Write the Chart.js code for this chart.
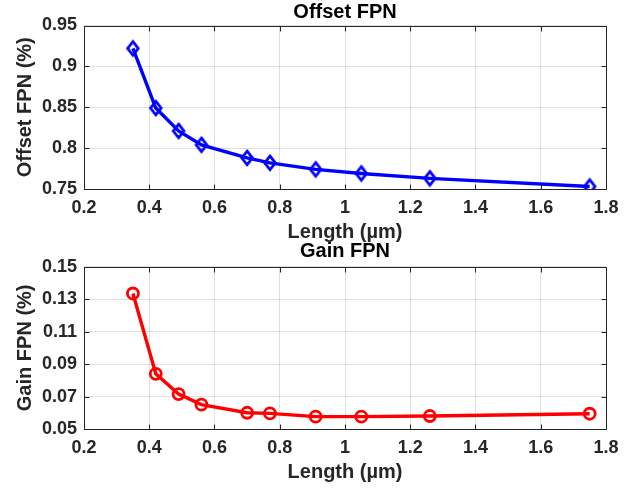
<!DOCTYPE html>
<html>
<head>
<meta charset="utf-8">
<script src="https://cdn.jsdelivr.net/npm/chart.js@4"></script>
<style>
  html, body { margin: 0; padding: 0; background: #fff; }
  #wrap { position: relative; width: 642px; height: 491px; overflow: hidden; }
  canvas { position: absolute; left: 0; }
  #offsetChart { top: 0; }
  #gainChart { top: 230px; }
</style>
</head>
<body>
<div id="wrap">
  <canvas id="offsetChart" width="642" height="250"></canvas>
  <canvas id="gainChart" width="642" height="261"></canvas>
</div>
<script>
// Channel length sweep (µm) and the measured fixed-pattern noise
const lengths   = [0.35, 0.42, 0.49, 0.56, 0.70, 0.77, 0.91, 1.05, 1.26, 1.75];
const offsetFpn = [0.922, 0.849, 0.821, 0.804, 0.788, 0.782, 0.774, 0.769, 0.763, 0.753];
const gainFpn   = [0.1335, 0.084, 0.0715, 0.065, 0.060, 0.0596, 0.0576, 0.0576, 0.058, 0.0594];

// Tick positions
const lengthTicks = [0.2, 0.4, 0.6, 0.8, 1.0, 1.2, 1.4, 1.6, 1.8];
const offsetTicks = [0.75, 0.8, 0.85, 0.9, 0.95];
const gainTicks   = [0.05, 0.07, 0.09, 0.11, 0.13, 0.15];

const FONT = '"Liberation Sans", Arial, Helvetica, sans-serif';
const AXIS_COLOR = '#262626';
const GRID_COLOR = 'rgba(38,38,38,0.14)';

// Open diamond marker, a little taller than wide
function diamondMarker(color) {
  const c = document.createElement('canvas');
  c.width = 18; c.height = 22;
  const g = c.getContext('2d');
  g.strokeStyle = color;
  g.lineWidth = 2.8;
  g.beginPath();
  g.moveTo(9, 11 - 6.8);
  g.lineTo(9 + 5.3, 11);
  g.lineTo(9, 11 + 6.8);
  g.lineTo(9 - 5.3, 11);
  g.closePath();
  g.stroke();
  return c;
}

// Closed axes box with inward tick marks on all four sides
const axesBox = {
  id: 'axesBox',
  afterDraw(chart) {
    const { ctx, chartArea: a, scales } = chart;
    const L = Math.round(a.left) + 0.5, R = Math.round(a.right) + 0.5;
    const T = Math.round(a.top) + 0.5, B = Math.round(a.bottom) + 0.5;
    ctx.save();
    ctx.strokeStyle = AXIS_COLOR;
    ctx.lineWidth = 1;
    ctx.beginPath();
    ctx.rect(L, T, R - L, B - T);
    const len = 5;
    scales.x.ticks.forEach(t => {
      const x = Math.round(scales.x.getPixelForValue(t.value)) + 0.5;
      ctx.moveTo(x, B); ctx.lineTo(x, B - len);
      ctx.moveTo(x, T); ctx.lineTo(x, T + len);
    });
    scales.y.ticks.forEach(t => {
      const y = Math.round(scales.y.getPixelForValue(t.value)) + 0.5;
      ctx.moveTo(L, y); ctx.lineTo(L + len, y);
      ctx.moveTo(R, y); ctx.lineTo(R - len, y);
    });
    ctx.stroke();
    ctx.restore();
  }
};

function makePanel(canvasId, cfg) {
  return new Chart(document.getElementById(canvasId), {
    type: 'line',
    data: {
      datasets: [{
        data: lengths.map((x, i) => ({ x, y: cfg.values[i] })),
        borderColor: cfg.color,
        borderWidth: 3.4,
        pointStyle: cfg.pointStyle,
        pointRadius: cfg.pointRadius,
        pointBorderWidth: 2.8,
        pointBorderColor: cfg.color,
        pointBackgroundColor: 'rgba(0,0,0,0)',
        tension: 0,
        fill: false
      }]
    },
    options: {
      responsive: false,
      animation: false,
      devicePixelRatio: 1,
      layout: { padding: { left: 0, right: 36, top: 0, bottom: 0 } },
      plugins: {
        legend: { display: false },
        tooltip: { enabled: false },
        title: {
          display: true,
          text: cfg.title,
          fullSize: false,
          color: '#000',
          font: { family: FONT, size: 20, weight: 'bold', lineHeight: 1.2 },
          padding: cfg.titlePadding
        }
      },
      scales: {
        x: {
          type: 'linear',
          min: 0.2, max: 1.8,
          afterBuildTicks: s => { s.ticks = lengthTicks.map(v => ({ value: v })); },
          afterFit: s => { s.height = cfg.xAxisHeight; },
          grid: { color: GRID_COLOR, drawTicks: false, lineWidth: 1 },
          border: { display: false },
          ticks: {
            autoSkip: false, maxRotation: 0, padding: 8,
            color: AXIS_COLOR,
            font: { family: FONT, size: 18, weight: 'bold' },
            callback: v => String(Math.round(v * 100) / 100)
          },
          title: {
            display: true,
            text: 'Length (µm)',
            color: AXIS_COLOR,
            font: { family: FONT, size: 20, weight: 'bold', lineHeight: 1.2 },
            padding: { top: 0, bottom: cfg.xTitleBottom }
          }
        },
        y: {
          type: 'linear',
          min: cfg.yTicks[0], max: cfg.yTicks[cfg.yTicks.length - 1],
          afterBuildTicks: s => { s.ticks = cfg.yTicks.map(v => ({ value: v })); },
          afterFit: s => { s.width = 84; },
          grid: { color: GRID_COLOR, drawTicks: false, lineWidth: 1 },
          border: { display: false },
          ticks: {
            autoSkip: false, padding: 7,
            color: AXIS_COLOR,
            font: { family: FONT, size: 18, weight: 'bold' },
            callback: v => String(Math.round(v * 1000) / 1000)
          },
          title: {
            display: true,
            text: cfg.yTitle,
            color: AXIS_COLOR,
            font: { family: FONT, size: 20, weight: 'bold', lineHeight: 1.2 },
            padding: { top: 13, bottom: 0 }
          }
        }
      }
    },
    plugins: [axesBox]
  });
}

makePanel('offsetChart', {
  title: 'Offset FPN',
  yTitle: 'Offset FPN (%)',
  values: offsetFpn,
  yTicks: offsetTicks,
  color: '#0000ff',
  pointStyle: diamondMarker('#0000ff'),
  pointRadius: 7,
  titlePadding: { top: 0.6, bottom: 0.9 },
  xAxisHeight: 61,
  xTitleBottom: 5.7
});

makePanel('gainChart', {
  title: 'Gain FPN',
  yTitle: 'Gain FPN (%)',
  values: gainFpn,
  yTicks: gainTicks,
  color: '#ff0000',
  pointStyle: 'circle',
  pointRadius: 5.5,
  titlePadding: { top: 9.3, bottom: 3.4 },
  xAxisHeight: 62,
  xTitleBottom: 6.7
});
</script>
</body>
</html>
